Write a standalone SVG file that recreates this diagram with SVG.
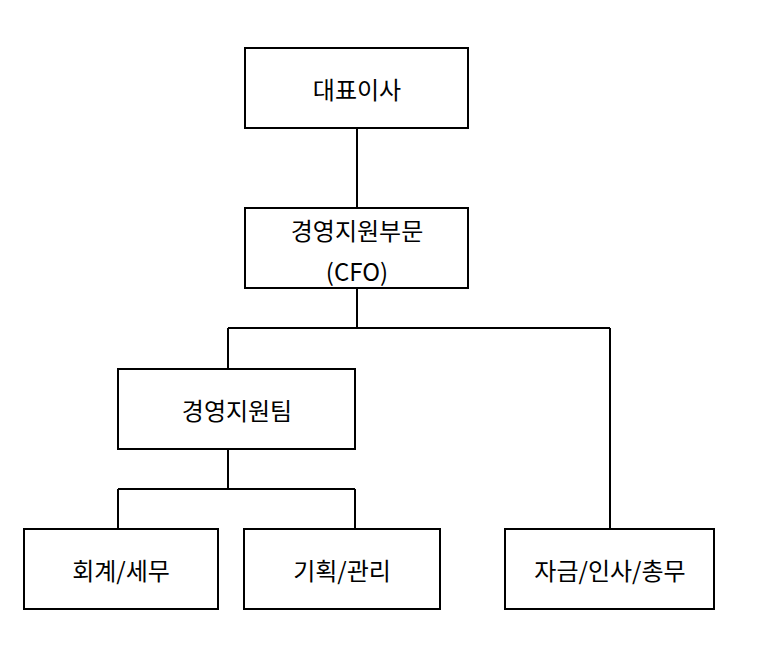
<svg xmlns="http://www.w3.org/2000/svg" width="764" height="657" viewBox="0 0 764 657">
<style>
.box{fill:#fff;stroke:#000;stroke-width:2}
.t{font-family:"Noto Sans CJK KR","Noto Sans",sans-serif;font-size:24px;text-anchor:middle;dominant-baseline:central;fill:#000}
.c{fill:none;stroke:#000;stroke-width:2}
</style>
<rect width="764" height="657" fill="#fff"/>
<g id="connectors">
<path class="c" d="M357 128V208"/>
<path class="c" d="M357 288V328M228 328H610M228 328V369M610 328V529"/>
<path class="c" d="M228 449V489M118 489H355M118 489V529M355 489V529"/>
</g>
<g id="ceo"><rect class="box" x="245" y="48" width="223" height="80"/><text class="t" x="357" y="88">대표이사</text></g>
<g id="cfo"><rect class="box" x="245" y="208" width="223" height="80"/><text class="t" x="357" y="229">경영지원부문</text><text class="t" x="357" y="270">(CFO)</text></g>
<g id="team"><rect class="box" x="118" y="369" width="237" height="80"/><text class="t" x="237" y="409">경영지원팀</text></g>
<g id="acct"><rect class="box" x="24" y="529" width="194" height="80"/><text class="t" x="121" y="569">회계/세무</text></g>
<g id="plan"><rect class="box" x="244" y="529" width="196" height="80"/><text class="t" x="342" y="569">기획/관리</text></g>
<g id="fund"><rect class="box" x="505" y="529" width="209" height="80"/><text class="t" x="610" y="569">자금/인사/총무</text></g>
</svg>
